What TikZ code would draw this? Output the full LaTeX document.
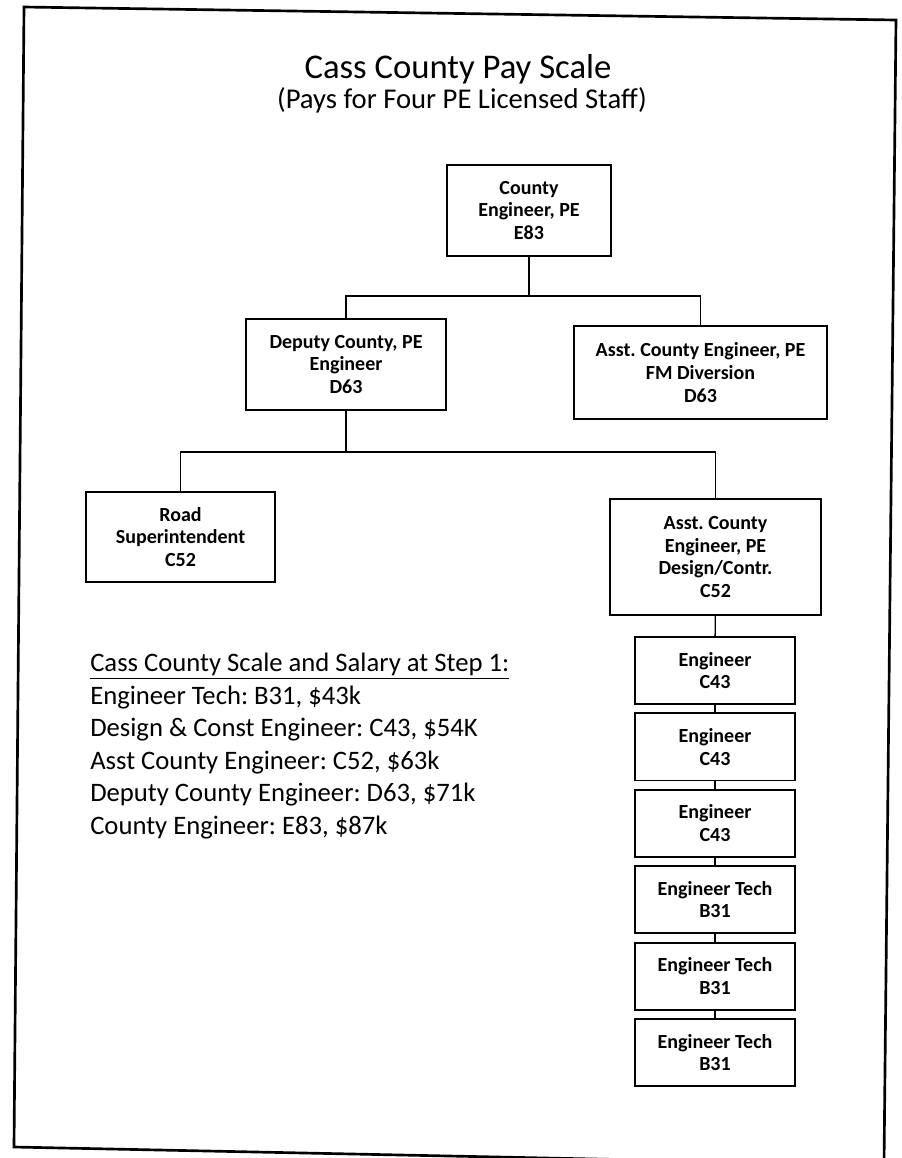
\documentclass[tikz,border=0pt]{standalone}
\usepackage{fontspec}
\setmainfont{Carlito}
\usetikzlibrary{positioning}
\frenchspacing

\tikzset{
	post/.style={draw, line width=1.4pt, align=center, inner sep=2pt, font=\bfseries\fontsize{15}{17}\selectfont},
	eng/.style={post, minimum width=120pt, minimum height=50.3pt},
	wire/.style={line width=1pt}
}

\begin{document}
\begin{tikzpicture}[x=0.75pt, y=-0.75pt]
	\useasboundingbox (0,0) rectangle (902,1158);
	
	% frame
	\draw[line width=2pt] (24,7) -- (896,20) -- (884,1165) -- (14,1147) -- cycle;
	
	% title
	\node[anchor=base, font=\fontsize{26}{31}\selectfont] (title) at (458,78) {Cass County Pay Scale};
	\node[anchor=base, font=\fontsize{21.5}{25}\selectfont] (sub) at (462,108) {(Pays for Four PE Licensed Staff)};
	
	% county engineer
	\node[post, minimum width=123pt, minimum height=68.3pt] (ce) at (529,210.5) {County\\Engineer, PE\\E83};
	
	% deputy, FM
	\node[post, minimum width=150pt, minimum height=68.3pt] (dep) at (346,364.5) {Deputy County, PE\\Engineer\\D63};
	\node[post, minimum width=189.8pt, minimum height=69.8pt] (fm) at (700.5,372.5) {Asst. County Engineer, PE\\FM Diversion\\D63};
	
	% road, design
	\node[post, minimum width=141.8pt, minimum height=67.5pt] (road) at (180.5,537) {Road\\Superintendent\\C52};
	\node[post, minimum width=158.3pt, minimum height=87pt] (des) at (715.5,557) {Asst. County\\Engineer, PE\\Design/Contr.\\C52};
	
	% engineers
	\node[eng] (e1) at (715,670.5) {Engineer\\C43};
	\node[eng, below=5.6pt of e1] (e2) {Engineer\\C43};
	\node[eng, below=5.6pt of e2] (e3) {Engineer\\C43};
	\node[eng, below=5.6pt of e3] (t1) {Engineer Tech\\B31};
	\node[eng, below=5.6pt of t1] (t2) {Engineer Tech\\B31};
	\node[eng, below=5.6pt of t2] (t3) {Engineer Tech\\B31};
	
	% lines
	\coordinate (j1) at (529,296);
	\coordinate (j2) at (346,452);
	\draw[wire] (ce) -- (j1);
	\draw[wire] (j1) -| (dep);
	\draw[wire] (j1) -| (fm);
	\draw[wire] (dep) -- (j2);
	\draw[wire] (j2) -| (road);
	\draw[wire] (j2) -| (des);
	\draw[wire] (des) -- (e1);
	\draw[wire] (e1) -- (e2);
	\draw[wire] (e2) -- (e3);
	\draw[wire] (e3) -- (t1);
	\draw[wire] (t1) -- (t2);
	\draw[wire] (t2) -- (t3);
	
	% scale
	\node[anchor=north west, align=left, inner sep=0pt, font=\fontsize{20}{24.4}\selectfont] (scale) at (90,653) {\underline{Cass County Scale and Salary at Step 1:}\\Engineer Tech: B31, \$43k\\Design \& Const Engineer: C43, \$54K\\Asst County Engineer: C52, \$63k\\Deputy County Engineer: D63, \$71k\\County Engineer: E83, \$87k};
\end{tikzpicture}
\end{document}
